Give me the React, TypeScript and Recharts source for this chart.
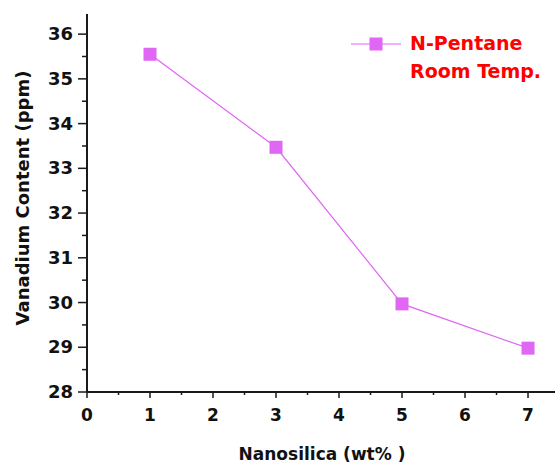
import React from 'react';
import { LineChart, Line, XAxis, YAxis } from 'recharts';

// Nanosilica loading (wt%) and measured vanadium content (ppm)
const nanosilica = [1, 3, 5, 7];
const vanadium = [35.55, 33.47, 29.97, 28.98];

// Axis ticks: integers are major (labelled), halves are minor
const xTicks = [0, 0.5, 1, 1.5, 2, 2.5, 3, 3.5, 4, 4.5, 5, 5.5, 6, 6.5, 7];
const yTicks = [28, 28.5, 29, 29.5, 30, 30.5, 31, 31.5, 32, 32.5, 33, 33.5, 34, 34.5, 35, 35.5, 36];

const seriesName = 'N-Pentane';
const legendLines = ['N-Pentane', 'Room Temp.'];
const xTitle = 'Nanosilica (wt% )';
const yTitle = 'Vanadium Content (ppm)';

const data = nanosilica.map((x, i) => ({ x, v: vanadium[i] }));

const FONT = '"DejaVu Sans", sans-serif';
const AXIS = '#1a1a1a';
const MARK = '#e066f4';

const XTick = (props: any) => {
  const { x, y, payload } = props;
  const v = payload.value as number;
  const major = Number.isInteger(v);
  return (
    <g>
      <line x1={x} x2={x} y1={y} y2={y + (major ? 6 : 3)} stroke={AXIS} strokeWidth={1.5} />
      {major && (
        <text x={x} y={y + 29} textAnchor="middle" fontFamily={FONT} fontWeight="bold" fontSize={17} fill="#111">
          {v}
        </text>
      )}
    </g>
  );
};

const YTick = (props: any) => {
  const { x, y, payload } = props;
  const v = payload.value as number;
  const major = Number.isInteger(v);
  return (
    <g>
      <line x1={x} x2={x - (major ? 9 : 5)} y1={y} y2={y} stroke={AXIS} strokeWidth={1.5} />
      {major && (
        <text x={x - 14} y={y + 6} textAnchor="end" fontFamily={FONT} fontWeight="bold" fontSize={18} fill="#111">
          {v}
        </text>
      )}
    </g>
  );
};

const SquareDot = (props: any) => {
  const { cx, cy } = props;
  if (cx == null || cy == null) return null;
  return <rect x={cx - 6.5} y={cy - 6.5} width={13} height={13} fill={MARK} />;
};

const YTitle = (props: any) => {
  const vb = props.viewBox || {};
  const cx = vb.x + 22;
  const cy = vb.y + vb.height / 2 - 5;
  return (
    <text
      x={cx}
      y={cy}
      transform={`rotate(-90 ${cx} ${cy})`}
      textAnchor="middle"
      dominantBaseline="central"
      fontFamily={FONT}
      fontWeight="bold"
      fontSize={18}
      fill="#111"
    >
      {yTitle}
    </text>
  );
};

const XTitle = (props: any) => {
  const vb = props.viewBox || {};
  const cx = vb.x + vb.width / 2;
  return (
    <text x={cx} y={vb.y + 68} textAnchor="middle" fontFamily={FONT} fontWeight="bold" fontSize={17} fill="#111">
      {xTitle}
    </text>
  );
};

const LegendBox = () => (
  <svg width={210} height={70} style={{ position: 'absolute', left: 349, top: 30 }}>
    <line x1={2} x2={52} y1={14} y2={14} stroke={MARK} strokeWidth={1.2} />
    <rect x={20.5} y={7.5} width={13} height={13} fill={MARK} />
    {legendLines.map((t, i) => (
      <text key={t} x={61} y={20 + i * 28} fontFamily={FONT} fontWeight="bold" fontSize={19} fill="#ff0000">
        {t}
      </text>
    ))}
  </svg>
);

export default function App() {
  return (
    <div style={{ position: 'absolute', left: 0, top: 0, width: 555, height: 466, overflow: 'hidden', background: '#fff' }}>
      <LineChart width={557} height={466} data={data} margin={{ top: 14, right: 0, bottom: 0, left: 0 }}>
        <XAxis
          xAxisId="bottom"
          dataKey="x"
          type="number"
          domain={[0, 7.46]}
          ticks={xTicks}
          interval={0}
          height={74}
          tickSize={0}
          tickMargin={0}
          tickLine={false}
          tick={<XTick />}
          axisLine={{ stroke: AXIS, strokeWidth: 2 }}
          label={<XTitle />}
        />
        <XAxis
          xAxisId="top"
          orientation="top"
          dataKey="x"
          type="number"
          domain={[0, 7.46]}
          height={0}
          tick={false}
          tickLine={false}
          axisLine={{ stroke: AXIS, strokeWidth: 2 }}
        />
        <YAxis
          type="number"
          domain={[28, 36.45]}
          ticks={yTicks}
          interval={0}
          width={87}
          tickSize={0}
          tickMargin={0}
          tickLine={false}
          tick={<YTick />}
          axisLine={{ stroke: AXIS, strokeWidth: 2 }}
          label={<YTitle />}
        />
        <Line
          xAxisId="bottom"
          dataKey="v"
          name={seriesName}
          stroke={MARK}
          strokeWidth={1.2}
          dot={<SquareDot />}
          activeDot={false}
          isAnimationActive={false}
        />
      </LineChart>
      <LegendBox />
    </div>
  );
}
